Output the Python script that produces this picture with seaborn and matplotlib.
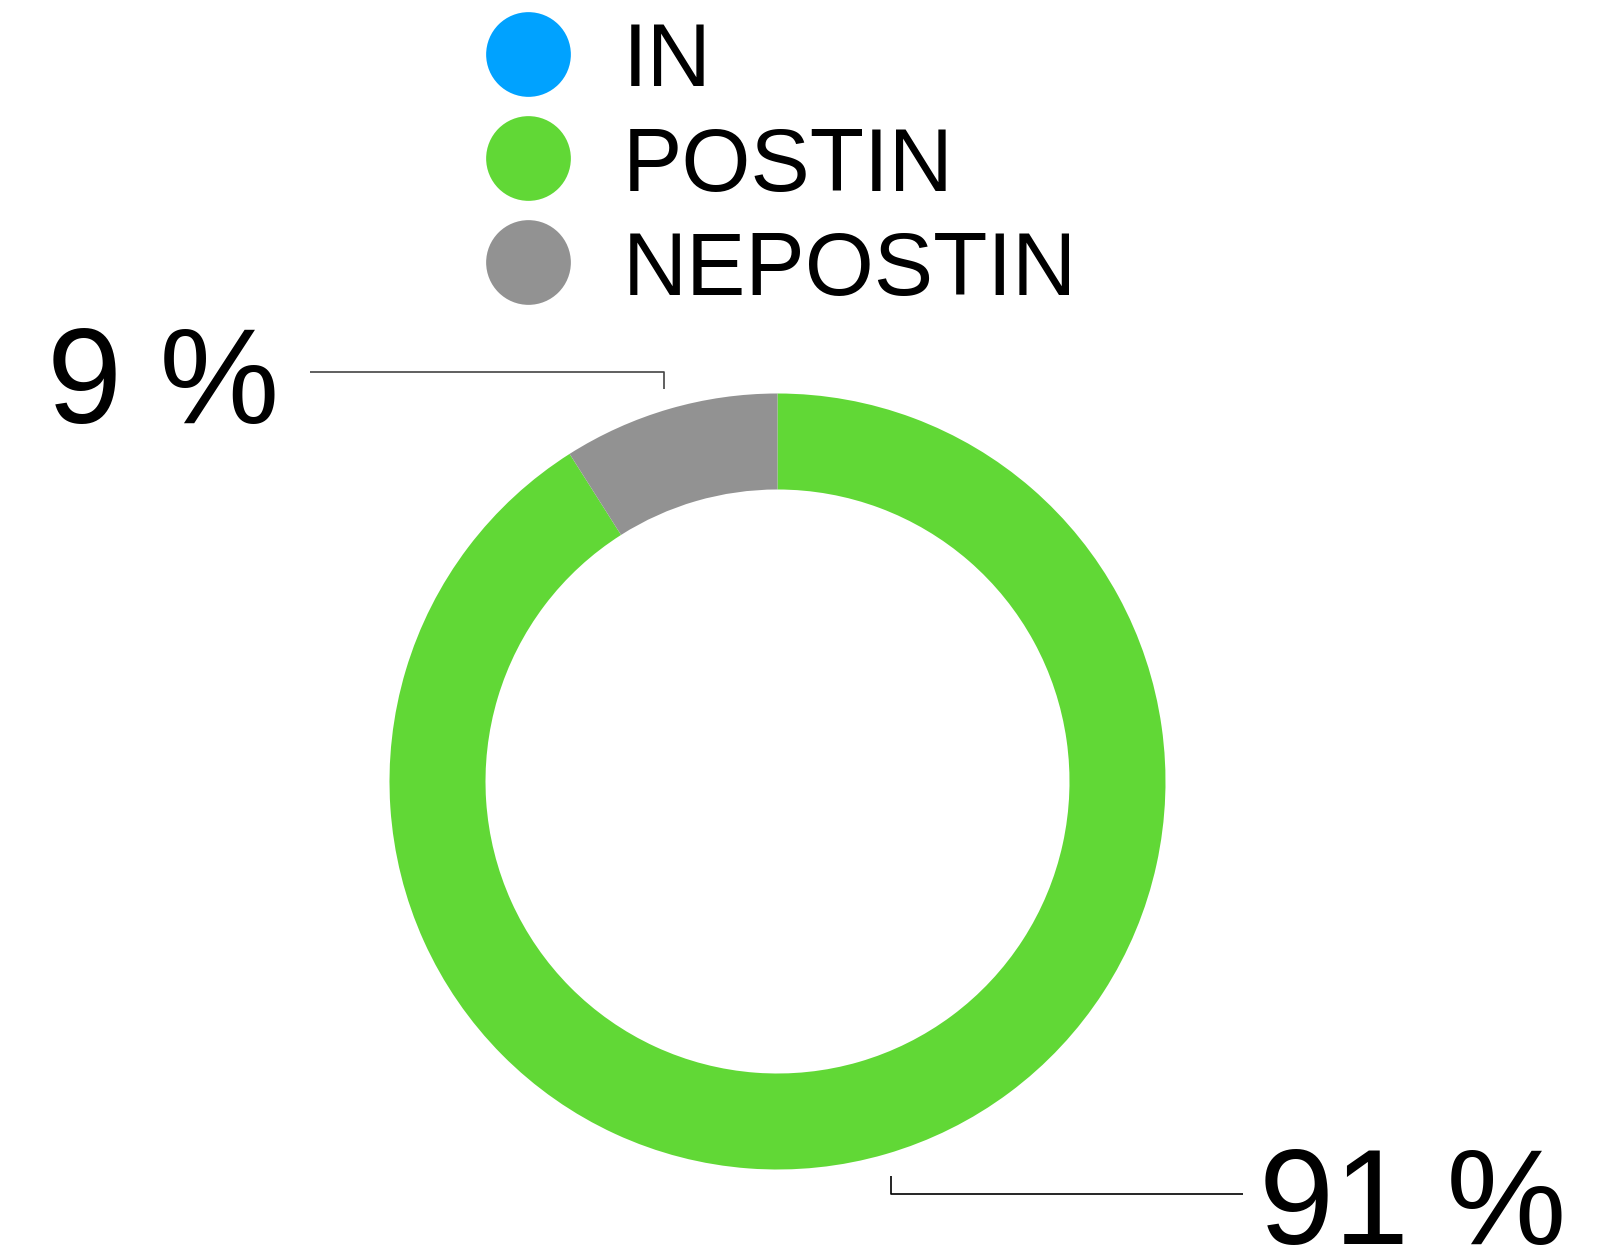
import matplotlib
matplotlib.use("Agg")
import matplotlib.pyplot as plt
import seaborn as sns

# data
categories = ["IN", "POSTIN", "NEPOSTIN"]
shares = [0, 91, 9]
colors = ["#00A2FF", "#61D836", "#929292"]
label_texts = ["9 %", "91 %"]

W, H = 1619, 1250
DPI = 100


def py(y):
    # pixel row (from top) -> data y
    return H - y


sns.set_theme(style="white")
plt.rcParams["font.family"] = ["Liberation Sans", "DejaVu Sans"]

fig = plt.figure(figsize=(W / DPI, H / DPI), dpi=DPI)
ax = fig.add_axes([0, 0, 1, 1])

# donut
cx, cy, r_out, ring = 777.5, 781.5, 388, 96
ax.pie(shares, colors=colors, startangle=90, counterclock=False,
       radius=r_out, center=(cx, py(cy)),
       wedgeprops=dict(width=ring, linewidth=0))

# legend drawn as dots + labels
for i, (name, col) in enumerate(zip(categories, colors)):
    yc = 54 + i * 104
    ax.scatter([528], [py(yc)], s=(61) ** 2, color=col, linewidths=0, zorder=3)
    ax.text(623, py(yc + 32.5), name, fontsize=64, ha="left", va="baseline",
            color="black")

# leader lines
ax.plot([310, 664, 664], [py(372), py(372), py(389)], color="#444444", lw=1.2,
        solid_capstyle="butt")
ax.plot([891, 891, 1243], [py(1176), py(1194), py(1194)], color="black", lw=1.2,
        solid_capstyle="butt")

# percentage labels
ax.text(47, py(423), label_texts[0], fontsize=97, ha="left", va="baseline",
        color="black")
ax.text(1259, py(1244), label_texts[1], fontsize=97, ha="left", va="baseline",
        color="black")

ax.set_xlim(0, W)
ax.set_ylim(0, H)
ax.set_aspect("equal")
ax.set_position([0, 0, 1, 1])
ax.axis("off")

fig.savefig("out.png", dpi=DPI, facecolor="white")
